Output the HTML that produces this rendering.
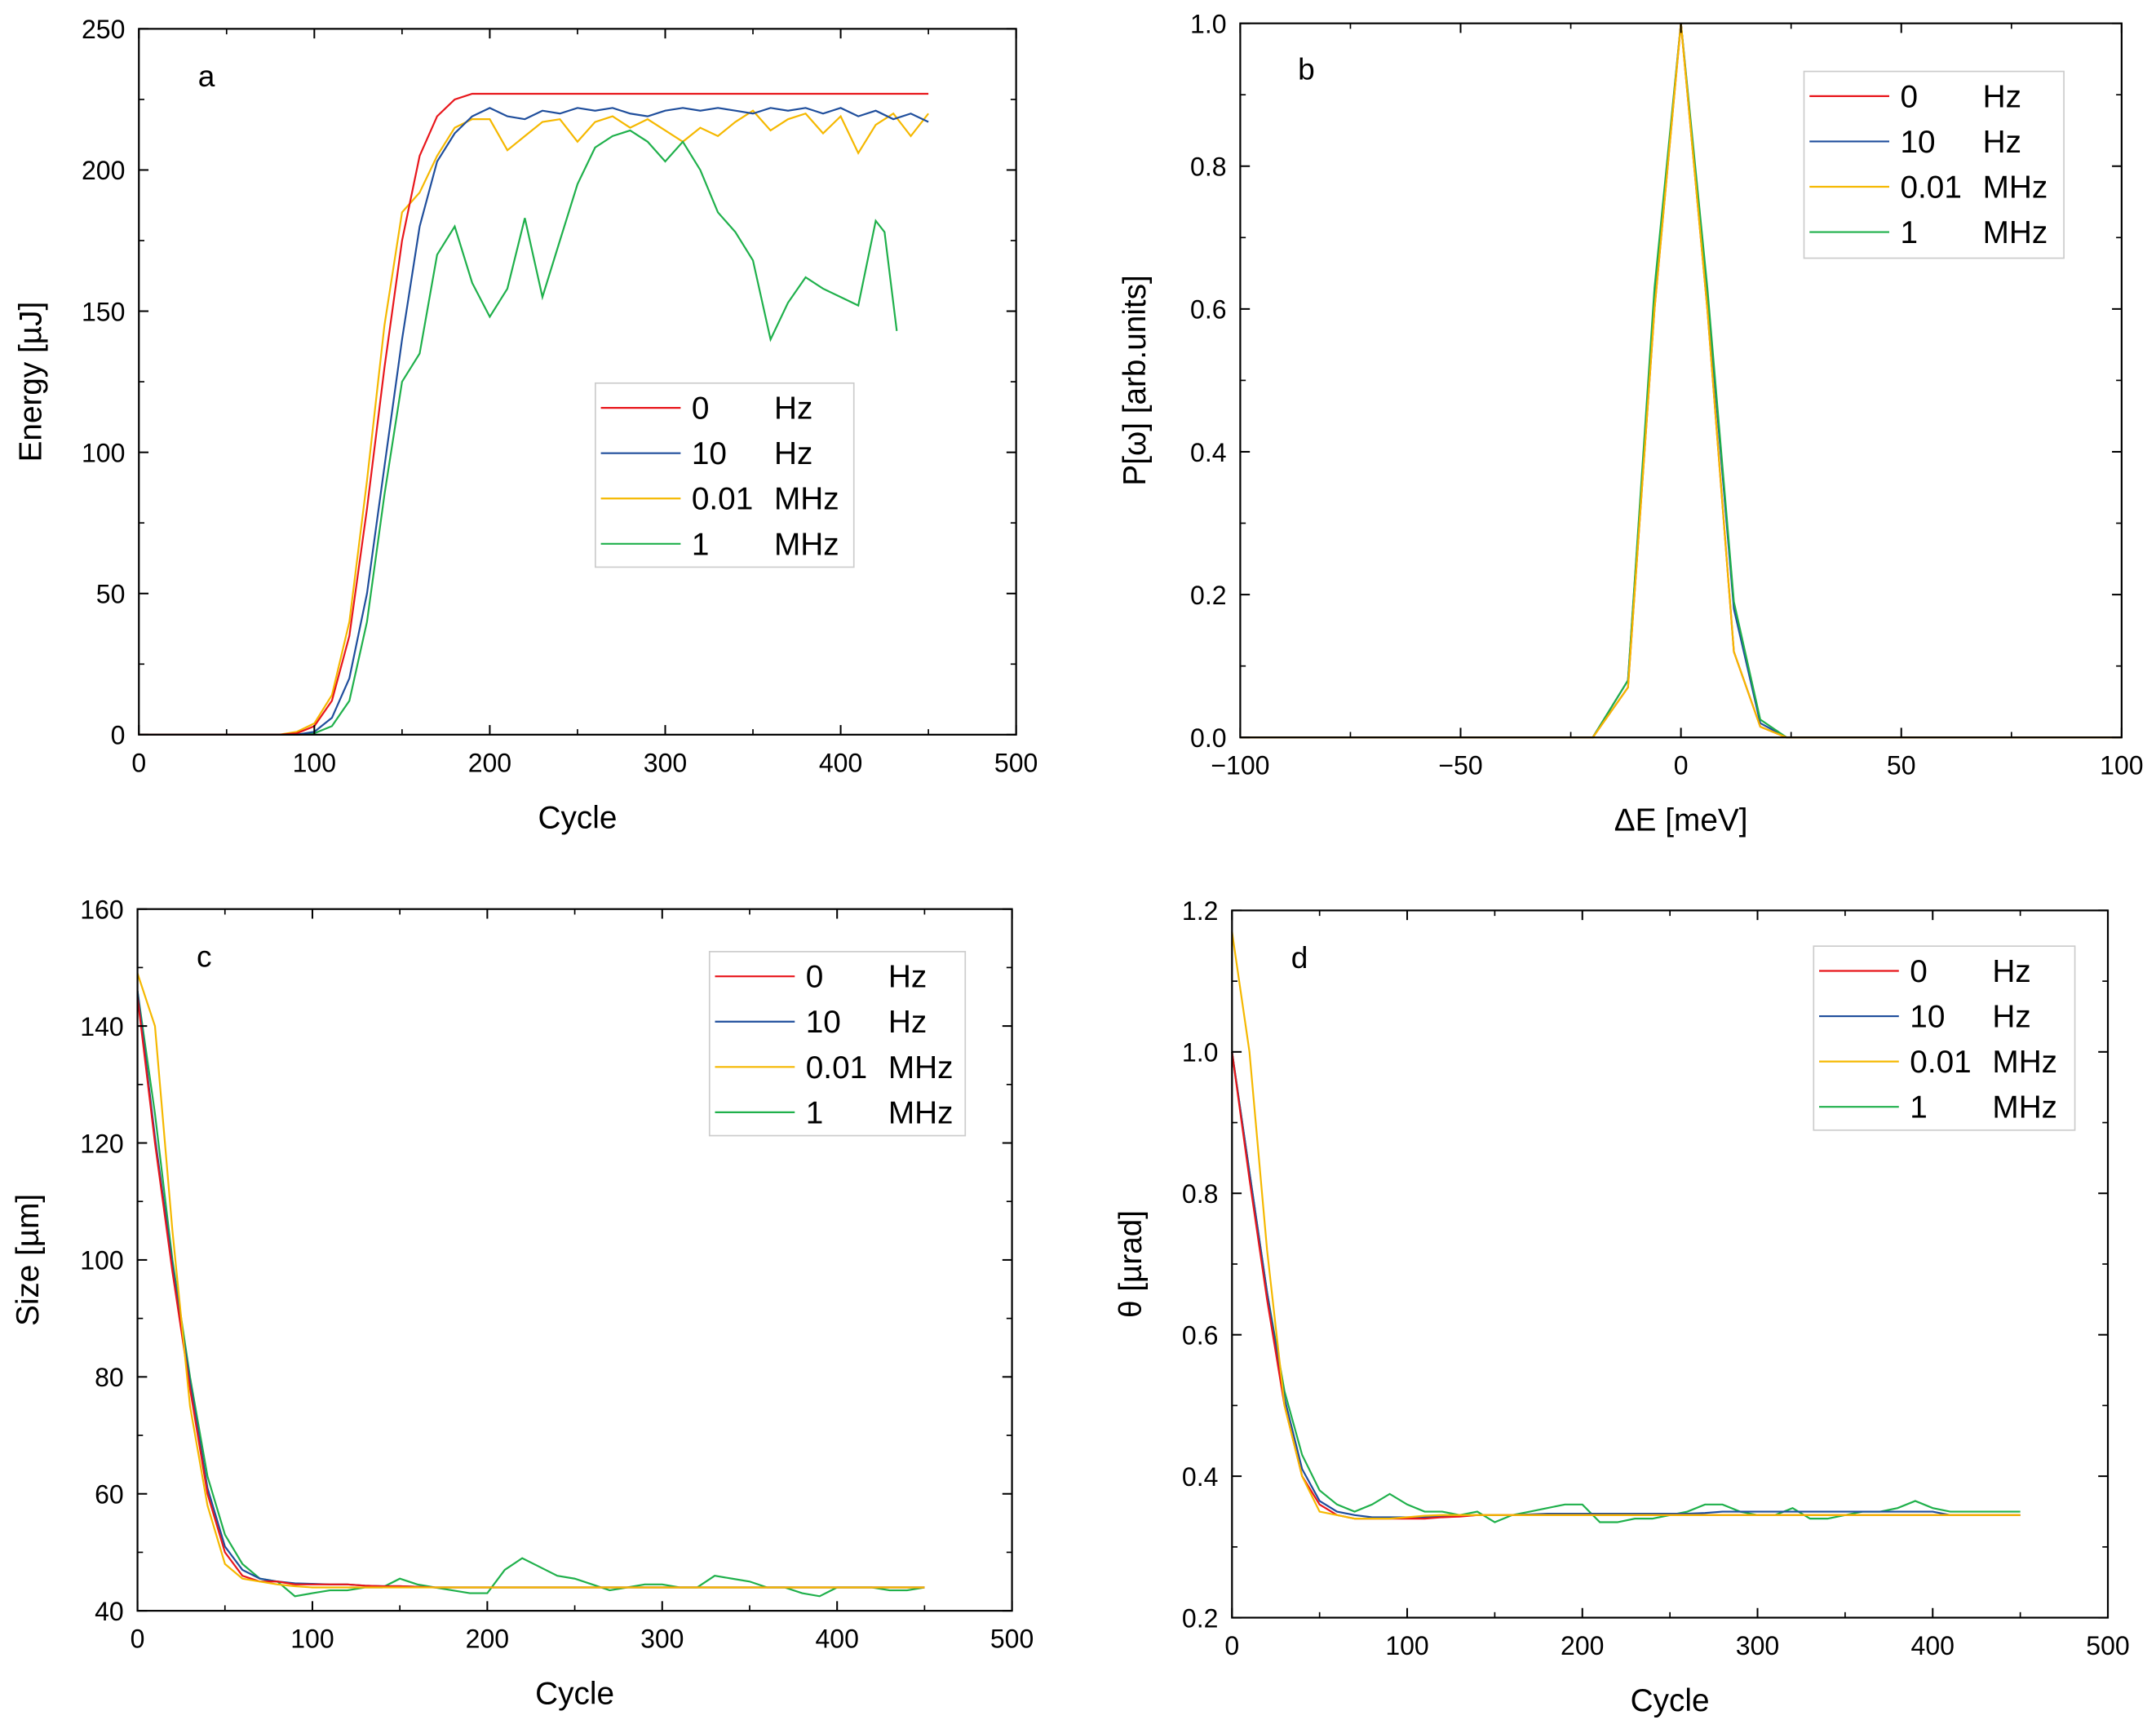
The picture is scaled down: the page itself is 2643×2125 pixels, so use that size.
<!DOCTYPE html>
<html><head><meta charset="utf-8"><style>html,body{margin:0;padding:0;background:#fff}svg{display:block}text{font-family:"Liberation Sans",Arial,sans-serif;fill:#000}</style></head>
<body>
<svg id="fig" width="2643" height="2125" viewBox="0 0 1568 1262" preserveAspectRatio="none" xmlns="http://www.w3.org/2000/svg"></svg>
<script>
// ---- data ----
const cyclesA = [0,10,20,30,40,50,60,70,80,90,100,110,120,130,140,150,160,170,180,190,200,210,220,230,240,250,260,270,280,290,300,310,320,330,340,350,360,370,380,390,400,410,420,430,440,450];
const energyRed = [0,0,0,0,0,0,0,0,0,0.5,3,12,35,80,130,175,205,219,225,227,227,227,227,227,227,227,227,227,227,227,227,227,227,227,227,227,227,227,227,227,227,227,227,227,227,227];
const energyBlue = [0,0,0,0,0,0,0,0,0,0,1,6,20,50,95,140,180,203,213,219,222,219,218,221,220,222,221,222,220,219,221,222,221,222,221,220,222,221,222,220,222,219,221,218,220,217];
const energyYellow = [0,0,0,0,0,0,0,0,0,1,4,14,40,90,145,185,192,205,215,218,218,207,212,217,218,210,217,219,215,218,214,210,215,212,217,221,214,218,220,213,219,206,216,220,212,220];
const cyclesGreen = [0,10,20,30,40,50,60,70,80,90,100,110,120,130,140,150,160,170,180,190,200,210,220,230,240,250,260,270,280,290,300,310,320,330,340,350,360,370,380,390,400,410,420,425,432];
const energyGreen = [0,0,0,0,0,0,0,0,0,0,0.5,3,12,40,85,125,135,170,180,160,148,158,183,155,175,195,208,212,214,210,203,210,200,185,178,168,140,153,162,158,155,152,182,178,143];
const dE = [-100,-20,-12,-6,0,6,12,18,24,100];
const pRed = [0,0,0.07,0.6,1,0.6,0.12,0.015,0,0];
const pBlue = [0,0,0.08,0.62,1,0.62,0.18,0.02,0,0];
const pYellow = [0,0,0.07,0.6,1,0.6,0.12,0.015,0,0];
const pGreen = [0,0,0.08,0.63,1,0.63,0.19,0.025,0,0];
const cyclesC = [0,10,20,30,40,50,60,70,80,90,100,110,120,130,140,150,160,170,180,190,200,210,220,230,240,250,260,270,280,290,300,310,320,330,340,350,360,370,380,390,400,410,420,430,440,450];
const sizeRed = [145,120,98,78,60,50,46,45,45,44.5,44.5,44.5,44.5,44.3,44.2,44.2,44.1,44,44,44,44,44,44,44,44,44,44,44,44,44,44,44,44,44,44,44,44,44,44,44,44,44,44,44,44,44];
const sizeBlue = [146,121,99,79,61,51,47,45.5,45,44.7,44.6,44.5,44.5,44.3,44.2,44.2,44.1,44,44,44,44,44,44,44,44,44,44,44,44,44,44,44,44,44,44,44,44,44,44,44,44,44,44,44,44,44];
const sizeYellow = [149,140,105,75,58,48,45.5,45,44.5,44.2,44,44,44,44,44,44,44,44,44,44,44,44,44,44,44,44,44,44,44,44,44,44,44,44,44,44,44,44,44,44,44,44,44,44,44,44];
const sizeGreen = [146,125,100,80,63,53,48,45.5,45,42.5,43,43.5,43.5,44,44,45.5,44.5,44,43.5,43,43,47,49,47.5,46,45.5,44.5,43.5,44,44.5,44.5,44,44,46,45.5,45,44,44,43,42.5,44,44,44,43.5,43.5,44];
const thetaRed = [1.0,0.82,0.65,0.5,0.4,0.36,0.345,0.34,0.34,0.34,0.34,0.34,0.342,0.343,0.345,0.345,0.345,0.345,0.345,0.345,0.345,0.345,0.345,0.345,0.345,0.345,0.345,0.345,0.345,0.345,0.345,0.345,0.345,0.345,0.345,0.345,0.345,0.345,0.345,0.345,0.345,0.345,0.345,0.345,0.345,0.345];
const thetaBlue = [1.0,0.83,0.66,0.51,0.41,0.365,0.35,0.345,0.342,0.342,0.342,0.342,0.343,0.344,0.345,0.345,0.345,0.346,0.347,0.347,0.347,0.347,0.347,0.347,0.347,0.347,0.347,0.348,0.35,0.35,0.35,0.35,0.35,0.35,0.35,0.35,0.35,0.35,0.35,0.35,0.35,0.345,0.345,0.345,0.345,0.345];
const thetaYellow = [1.17,1.0,0.72,0.5,0.4,0.35,0.345,0.34,0.34,0.34,0.342,0.344,0.345,0.345,0.345,0.345,0.345,0.345,0.345,0.345,0.345,0.345,0.345,0.345,0.345,0.345,0.345,0.345,0.345,0.345,0.345,0.345,0.345,0.345,0.345,0.345,0.345,0.345,0.345,0.345,0.345,0.345,0.345,0.345,0.345,0.345];
const thetaGreen = [1.0,0.83,0.66,0.52,0.43,0.38,0.36,0.35,0.36,0.375,0.36,0.35,0.35,0.345,0.35,0.335,0.345,0.35,0.355,0.36,0.36,0.335,0.335,0.34,0.34,0.345,0.35,0.36,0.36,0.35,0.345,0.345,0.355,0.34,0.34,0.345,0.35,0.35,0.355,0.365,0.355,0.35,0.35,0.35,0.35,0.35];
const legendLabels = ["0","10","0.01","1"];
const legendUnits = ["Hz","Hz","MHz","MHz"];
const colors = ["#e8161b","#1f4e9c","#f5b800","#1fb04b"];

const svg = document.getElementById('fig');
const NS = "http://www.w3.org/2000/svg";
function mk(tag, attrs, parent){const e=document.createElementNS(NS,tag);for(const k in attrs)e.setAttribute(k,attrs[k]);(parent||svg).appendChild(e);return e;}

function panel(cfg){
  const g = mk('g',{});
  
  
  const {x0,x1,y0,y1,xmin,xmax,ymin,ymax} = cfg;
  const sx = v => x0 + (v-xmin)/(xmax-xmin)*(x1-x0);
  const sy = v => y1 - (v-ymin)/(ymax-ymin)*(y1-y0);
  cfg.series.forEach((s,i)=>{
    const p = s.x.map((xv,j)=>sx(xv).toFixed(1)+','+sy(s.y[j]).toFixed(1)).join(' ');
    const pl = mk('polyline',{points:p,fill:'none',stroke:colors[s.c],'stroke-width':1.3},g);
    
    
  });
  const fr = mk('rect',{x:x0,y:y0,width:x1-x0,height:y1-y0,fill:'none',stroke:'#000','stroke-width':1.3},g);
  
  
  cfg.xt.forEach((v,i)=>{
    const X=sx(v);
    mk('line',{x1:X,x2:X,y1:y1,y2:y1-7,stroke:'#000','stroke-width':1.2},g);
    mk('line',{x1:X,x2:X,y1:y0,y2:y0+7,stroke:'#000','stroke-width':1.2},g);
    const t=mk('text',{x:X,y:y1+27,'text-anchor':'middle','font-size':19},g);
    t.textContent=cfg.xl[i];
    
    
    if(i<cfg.xt.length-1){const m=sx((v+cfg.xt[i+1])/2);
      mk('line',{x1:m,x2:m,y1:y1,y2:y1-4,stroke:'#000','stroke-width':1},g);
      mk('line',{x1:m,x2:m,y1:y0,y2:y0+4,stroke:'#000','stroke-width':1},g);}
  });
  cfg.yt.forEach((v,i)=>{
    const Y=sy(v);
    mk('line',{x1:x0,x2:x0+7,y1:Y,y2:Y,stroke:'#000','stroke-width':1.2},g);
    mk('line',{x1:x1,x2:x1-7,y1:Y,y2:Y,stroke:'#000','stroke-width':1.2},g);
    const t=mk('text',{x:x0-10,y:Y+7,'text-anchor':'end','font-size':19},g);
    t.textContent=cfg.yl[i];
    
    
    if(i<cfg.yt.length-1){const m=sy((v+cfg.yt[i+1])/2);
      mk('line',{x1:x0,x2:x0+4,y1:m,y2:m,stroke:'#000','stroke-width':1},g);
      mk('line',{x1:x1,x2:x1-4,y1:m,y2:m,stroke:'#000','stroke-width':1},g);}
  });
  const xt=mk('text',{x:(x0+x1)/2,y:y1+68,'text-anchor':'middle','font-size':23},g);
  xt.textContent=cfg.xtitle;
  
  
  const yx=cfg.ytx;
  const yt=mk('text',{x:yx,y:(y0+y1)/2,'text-anchor':'middle','font-size':23,transform:`rotate(-90 ${yx} ${(y0+y1)/2})`},g);
  yt.textContent=cfg.ytitle;
  
  
  const lt=mk('text',{x:cfg.lab[0],y:cfg.lab[1],'font-size':22},g);
  lt.textContent=cfg.id;
  
  
  const L=cfg.leg;
  const lg=mk('g',{},g);
  
  
  mk('rect',{x:L.x,y:L.y,width:L.w,height:L.h,fill:'#fff',stroke:'#ccc','stroke-width':1},lg);
  for(let i=0;i<4;i++){
    const ry=L.y+18+i*33;
    const e=mk('g',{},lg);
    
    
    mk('line',{x1:L.x+4,x2:L.x+62,y1:ry,y2:ry,stroke:colors[i],'stroke-width':1.3},e);
    const a=mk('text',{x:L.x+70,y:ry+8,'font-size':23},e); a.textContent=legendLabels[i];
    const b=mk('text',{x:L.x+L.ux,y:ry+8,'font-size':23},e); b.textContent=legendUnits[i];
  }
}

panel({id:'a',x0:101,x1:739,y0:21,y1:535,xmin:0,xmax:500,ymin:0,ymax:250,
  xt:[0,100,200,300,400,500],xl:['0','100','200','300','400','500'],
  yt:[0,50,100,150,200,250],yl:['0','50','100','150','200','250'],
  xtitle:'Cycle',ytitle:'Energy [µJ]',ytx:30,lab:[144,63],
  leg:{x:433,y:279,w:188,h:134,ux:130},
  series:[{x:cyclesA,y:energyYellow,c:2},{x:cyclesGreen,y:energyGreen,c:3},{x:cyclesA,y:energyBlue,c:1},{x:cyclesA,y:energyRed,c:0}]});
panel({id:'b',x0:902,x1:1543,y0:17,y1:537,xmin:-100,xmax:100,ymin:0,ymax:1,
  xt:[-100,-50,0,50,100],xl:['\u2212100','\u221250','0','50','100'],
  yt:[0,0.2,0.4,0.6,0.8,1.0],yl:['0.0','0.2','0.4','0.6','0.8','1.0'],
  xtitle:'\u0394E [meV]',ytitle:'P[\u03c9] [arb.units]',ytx:833,lab:[944,58],
  leg:{x:1312,y:52,w:189,h:136,ux:130},
  series:[{x:dE,y:pBlue,c:1},{x:dE,y:pGreen,c:3},{x:dE,y:pRed,c:0},{x:dE,y:pYellow,c:2}]});
panel({id:'c',x0:100,x1:736,y0:662,y1:1173,xmin:0,xmax:500,ymin:40,ymax:160,
  xt:[0,100,200,300,400,500],xl:['0','100','200','300','400','500'],
  yt:[40,60,80,100,120,140,160],yl:['40','60','80','100','120','140','160'],
  xtitle:'Cycle',ytitle:'Size [µm]',ytx:28,lab:[143,704],
  leg:{x:516,y:693,w:186,h:134,ux:130},
  series:[{x:cyclesC,y:sizeGreen,c:3},{x:cyclesC,y:sizeBlue,c:1},{x:cyclesC,y:sizeRed,c:0},{x:cyclesC,y:sizeYellow,c:2}]});
panel({id:'d',x0:896,x1:1533,y0:663,y1:1178,xmin:0,xmax:500,ymin:0.2,ymax:1.2,
  xt:[0,100,200,300,400,500],xl:['0','100','200','300','400','500'],
  yt:[0.2,0.4,0.6,0.8,1.0,1.2],yl:['0.2','0.4','0.6','0.8','1.0','1.2'],
  xtitle:'Cycle',ytitle:'\u03b8 [µrad]',ytx:830,lab:[939,705],
  leg:{x:1319,y:689,w:190,h:134,ux:130},
  series:[{x:cyclesC,y:thetaGreen,c:3},{x:cyclesC,y:thetaBlue,c:1},{x:cyclesC,y:thetaRed,c:0},{x:cyclesC,y:thetaYellow,c:2}]});
</script>
</body></html>
